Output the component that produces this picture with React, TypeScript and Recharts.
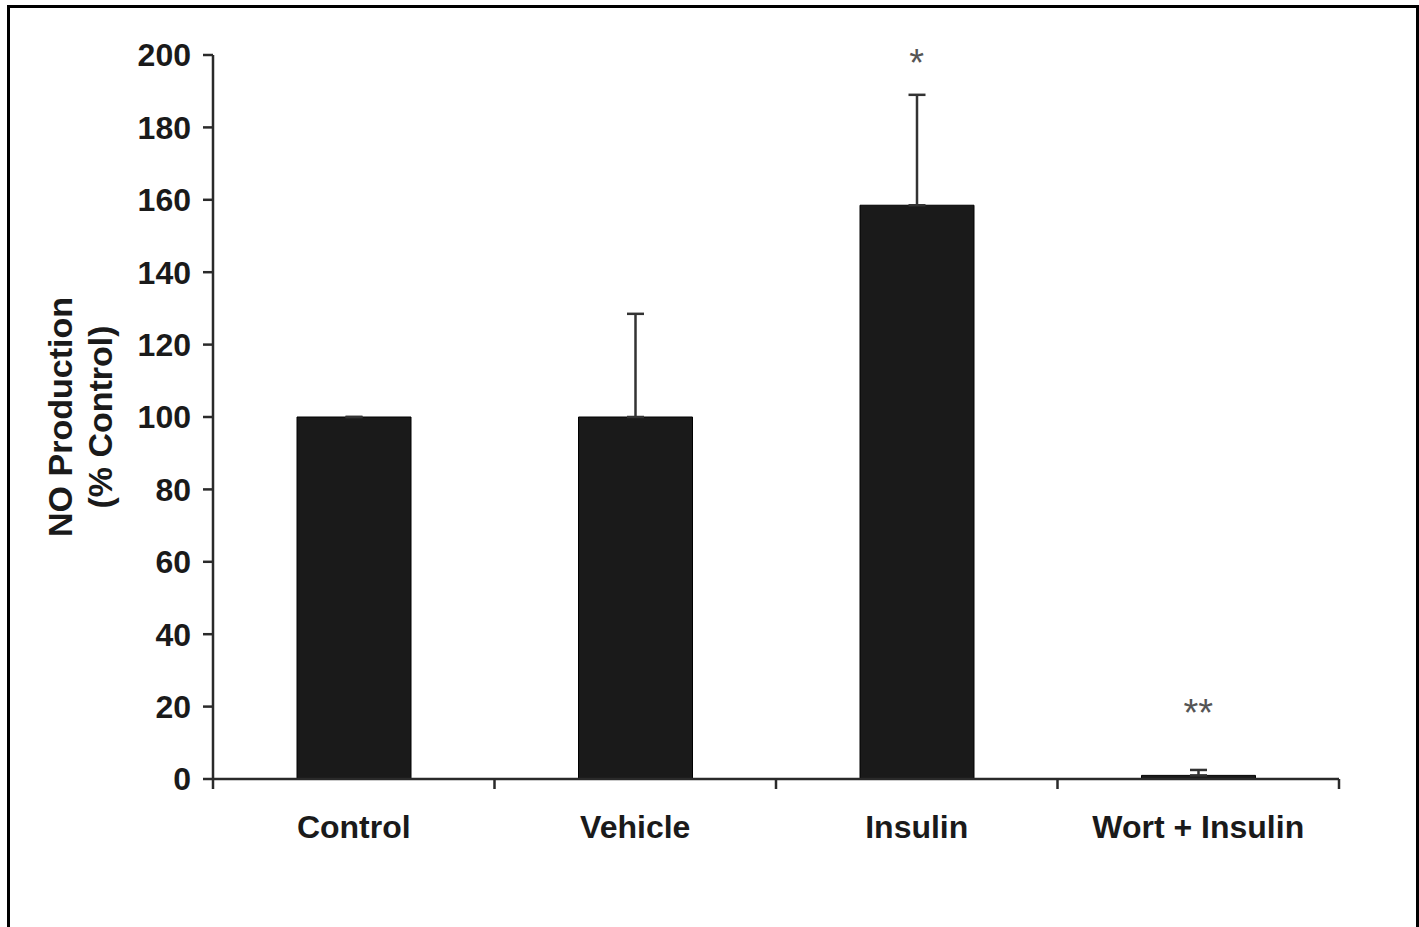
import { ComposedChart, Bar, Scatter, XAxis, YAxis, ErrorBar } from 'recharts';

const categories = ['Control', 'Vehicle', 'Insulin', 'Wort + Insulin'];
const noProduction = [100, 100, 158.5, 1];
const upperError = [0, 28.5, 30.5, 1.5];
const significance = ['', '', '*', '**'];
const starLevel = [null, null, 200, 20.5];
const yTicks = [0, 20, 40, 60, 80, 100, 120, 140, 160, 180, 200];

const data = categories.map((name, i) => ({
  name,
  value: noProduction[i],
  err: [0, upperError[i]],
  sig: significance[i],
  starY: starLevel[i],
}));

const FONT = '"Liberation Sans", Arial, sans-serif';
const AXIS = '#2a2a2a';
const LABEL_GAP = 36;
const TICK_LEN = 10;

const YLabel = (props: any) => {
  const vb = props.viewBox;
  const cy = vb.y + vb.height / 2;
  return (
    <g fontFamily={FONT} fontWeight="bold" fontSize={34} fill="#1a1a1a">
      <text x={60} y={cy} transform={`rotate(-90 60 ${cy})`} textAnchor="middle" dominantBaseline="central">
        NO Production
      </text>
      <text x={100} y={cy} transform={`rotate(-90 100 ${cy})`} textAnchor="middle" dominantBaseline="central">
        (% Control)
      </text>
    </g>
  );
};

// category label plus tick marks on the band edges
const CatTick = (props: any) => {
  const { x, y, payload } = props;
  const half = payload.offset || 0;
  const axisY = y - LABEL_GAP;
  const last = payload.index === categories.length - 1;
  return (
    <g>
      <line x1={x - half} x2={x - half} y1={axisY} y2={axisY + TICK_LEN} stroke={AXIS} strokeWidth={2.5} />
      {last && <line x1={x + half} x2={x + half} y1={axisY} y2={axisY + TICK_LEN} stroke={AXIS} strokeWidth={2.5} />}
      <text x={x} y={y} dy="0.71em" textAnchor="middle" fontSize={32} fontWeight="bold" fill="#1a1a1a" fontFamily={FONT}>
        {payload.value}
      </text>
    </g>
  );
};

const Star = (props: any) => {
  const { cx, cy, payload } = props;
  if (!payload || !payload.sig || cy == null || isNaN(cy)) return <g />;
  return (
    <text x={cx} y={cy + 0.55 * 38} textAnchor="middle" fontSize={38} fill="#555" fontFamily={FONT}>
      {payload.sig}
    </text>
  );
};

export default function App() {
  return (
    <div style={{ position: 'absolute', left: 0, top: 0, width: 1419, height: 927, overflow: 'hidden', background: '#fff' }}>
      <div
        style={{
          position: 'absolute',
          left: 7,
          top: 5,
          width: 1412,
          height: 1000,
          boxSizing: 'border-box',
          borderLeft: '3px solid #000',
          borderTop: '3px solid #000',
          borderRight: '3px solid #000',
        }}
      />
      <div style={{ position: 'absolute', left: 0, top: 0 }}>
        <ComposedChart width={1419} height={927} data={data} margin={{ top: 55, right: 80, bottom: 78, left: 0 }}>
          <XAxis
            dataKey="name"
            height={70}
            axisLine={{ stroke: AXIS, strokeWidth: 2.5 }}
            tickLine={false}
            tickSize={0}
            tickMargin={LABEL_GAP}
            tick={<CatTick />}
            interval={0}
          />
          <YAxis
            width={213}
            domain={[0, 200]}
            ticks={yTicks}
            interval={0}
            tickSize={10}
            tickMargin={12}
            axisLine={{ stroke: AXIS, strokeWidth: 2.5 }}
            tickLine={{ stroke: AXIS, strokeWidth: 2.5 }}
            tick={{ fontSize: 32, fontWeight: 'bold', fill: '#1a1a1a', fontFamily: FONT }}
            label={<YLabel />}
          />
          <Bar dataKey="value" fill="#1a1a1a" stroke="#000" strokeWidth={1} barSize={114} isAnimationActive={false}>
            <ErrorBar dataKey="err" direction="y" width={8.5} stroke="#333" strokeWidth={2.5} />
          </Bar>
          <Scatter dataKey="starY" shape={<Star />} isAnimationActive={false} />
        </ComposedChart>
      </div>
    </div>
  );
}
